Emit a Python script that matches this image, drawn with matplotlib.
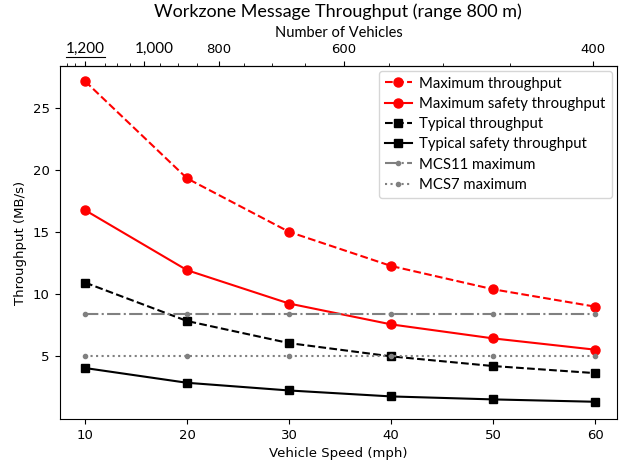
import numpy as np
import matplotlib
matplotlib.use("Agg")
import matplotlib.pyplot as plt
from matplotlib.lines import Line2D
from matplotlib.transforms import ScaledTranslation

# vehicle speed (mph) and throughput (MB/s)
speeds = [10, 20, 30, 40, 50, 60]
max_throughput = [27.19, 19.35, 15.04, 12.29, 10.41, 9.01]
max_safety_throughput = [16.79, 11.95, 9.26, 7.58, 6.45, 5.54]
typical_throughput = [10.95, 7.85, 6.07, 5.00, 4.22, 3.65]
typical_safety_throughput = [4.06, 2.87, 2.25, 1.77, 1.53, 1.34]
mcs11_max = [8.42] * len(speeds)
mcs7_max = [5.05] * len(speeds)

# vehicles in range: N = K / (speed + OFFSET)
VEH_K = 29300.0
VEH_OFFSET = 13.5

top_major_labels = ["1,200", "1,000", "800", "600", "400"]
top_major_vals = [VEH_K / (10 + VEH_OFFSET), 1000, 800, 600, 400]
top_minor_vals = [1350, 1300, 1150, 1100, 1050, 950, 900, 850,
                  750, 700, 650, 550, 500, 450]

CAL = "Lato"


def to_vehicles(s):
    s = np.asarray(s, dtype=float)
    return VEH_K / np.maximum(s + VEH_OFFSET, 1e-6)


def to_speed(n):
    n = np.asarray(n, dtype=float)
    return VEH_K / np.maximum(n, 1e-6) - VEH_OFFSET


fig = plt.figure(figsize=(6.21, 4.65), dpi=100)
ax = fig.add_axes([59.5 / 621, 1 - 419 / 465, (617.3 - 59.5) / 621, (419 - 66) / 465])

ax.plot(speeds, max_throughput, "r--", marker="o", markersize=6.5, label="Maximum throughput")
ax.plot(speeds, max_safety_throughput, "r-", marker="o", markersize=6.5, label="Maximum safety throughput")
ax.plot(speeds, typical_throughput, "k--", marker="s", markersize=6, label="Typical throughput")
ax.plot(speeds, typical_safety_throughput, "k-", marker="s", markersize=6, label="Typical safety throughput")
ax.plot(speeds, mcs11_max, color="gray", linestyle="-.", marker=".", label="MCS11 maximum")
ax.plot(speeds, mcs7_max, color="gray", linestyle=":", marker=".", label="MCS7 maximum")

ax.set_xlim(7.49, 62.16)
ax.set_ylim(-0.05, 28.42)
ax.set_xticks(speeds)
ax.set_yticks([5, 10, 15, 20, 25])
ax.tick_params(labelsize=9.5)
ax.set_xlabel("Vehicle Speed (mph)", fontsize=9.5)
ax.set_ylabel("Throughput (MB/s)", fontsize=9.5)

leg = ax.legend(loc="upper right", bbox_to_anchor=(0.995, 0.995), prop={"family": CAL, "size": 10.7},
                labelspacing=0.42, borderaxespad=0.2, handlelength=1.8, handletextpad=0.5)

# top axis: number of vehicles in range
sec = ax.secondary_xaxis("top", functions=(to_vehicles, to_speed))
sec.set_xticks(top_major_vals)
sec.set_xticklabels(top_major_labels)
sec.set_xticks(top_minor_vals, minor=True)
sec.tick_params(labelsize=9.5)
sec.set_xlabel("Number of Vehicles", fontfamily=CAL, fontsize=10.5, labelpad=4)

fig.text(338 / 621, 1 - 12 / 465, "Workzone Message Throughput (range 800 m)",
         ha="center", va="center", fontfamily=CAL, fontsize=13)

fig.canvas.draw()
labels = sec.xaxis.get_ticklabels()
for lab in labels[:2]:
    lab.set_fontfamily(CAL)
    lab.set_fontsize(11)
labels[1].set_transform(labels[1].get_transform() + ScaledTranslation(0.1, 0, fig.dpi_scale_trans))
fig.canvas.draw()
bb = labels[0].get_window_extent()
fig.add_artist(Line2D([bb.x0, bb.x1], [bb.y0 - 1, bb.y0 - 1], transform=None, color="black", linewidth=0.8))

fig.savefig("out.png", dpi=100)
